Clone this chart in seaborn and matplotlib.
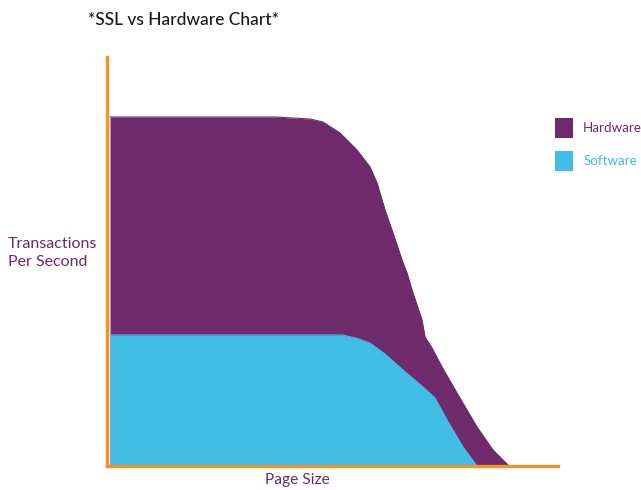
import matplotlib
matplotlib.use("Agg")
import matplotlib.pyplot as plt
import seaborn as sns
import pandas as pd
from matplotlib.patches import Patch

# Data (arbitrary units)
hw_x = [3, 93, 168, 203, 216, 233, 250, 263, 270, 278, 286, 295, 300, 305, 315, 318, 325, 335, 350, 370, 386, 400, 402]
hw_y = [349, 349, 349, 347, 344, 333, 316, 299, 283, 256, 233, 206, 193, 176, 146, 129, 118, 99, 73, 39, 16, 2, 0]
sw_x = [3, 235, 249, 263, 278, 296, 316, 328, 340, 356, 370]
sw_y = [131, 131, 128, 123, 112, 96, 79, 68, 46, 19, 0]
series = ["Hardware", "Software"]
title = "*SSL vs Hardware Chart*"
xlabel = "Page Size"
ylabel = "Transactions\nPer Second"

PURPLE = "#6e2a6b"
BLUE = "#42bde6"
ORANGE = "#f29323"

sns.set_theme(style="white")
plt.rcParams["font.family"] = ["Lato", "DejaVu Sans"]

fig = plt.figure(figsize=(6.41, 4.90), dpi=100)
ax = fig.add_axes([107 / 641, 1 - 466 / 490, (558 - 107) / 641, (466 - 57) / 490])

hw = pd.DataFrame({"x": hw_x, "y": hw_y})
sw = pd.DataFrame({"x": sw_x, "y": sw_y})

sns.lineplot(data=hw, x="x", y="y", color=PURPLE, lw=0.8, ax=ax, zorder=2)
ax.fill_between(hw["x"], 0, hw["y"], color=PURPLE, lw=0, zorder=2)
sns.lineplot(data=sw, x="x", y="y", color=BLUE, lw=0.8, ax=ax, zorder=3)
ax.fill_between(sw["x"], 0, sw["y"], color=BLUE, lw=0, zorder=3)

ax.set_xlim(0, 451)
ax.set_ylim(0, 409)
ax.set_xticks([])
ax.set_yticks([])
ax.set_xlabel("")
ax.set_ylabel("")
for s in ["top", "right"]:
    ax.spines[s].set_visible(False)
for s in ["left", "bottom"]:
    ax.spines[s].set_color(ORANGE)
    ax.spines[s].set_linewidth(2.4)
    ax.spines[s].set_zorder(5)

fig.text(88 / 641, 1 - 20 / 490, title, fontsize=12.5, fontweight="medium",
         color="#1a1a1a", va="center", ha="left")
fig.text(8 / 641, 1 - 253 / 490, ylabel, fontsize=11.5, color=PURPLE,
         va="center", ha="left", linespacing=1.4)
fig.text(297 / 641, 1 - 480 / 490, xlabel, fontsize=11.2, color=PURPLE,
         va="center", ha="center")

handles = [Patch(facecolor=PURPLE, edgecolor="none"), Patch(facecolor=BLUE, edgecolor="none")]
fig.legend(handles, series, loc="upper left", bbox_to_anchor=(555 / 641, 1 - 118 / 490),
           frameon=False, fontsize=9.6, handlelength=1.36, handleheight=1.9,
           handletextpad=0.75, labelspacing=1.0, borderpad=0, borderaxespad=0,
           labelcolor=[PURPLE, BLUE])

fig.savefig("out.png", dpi=100)
